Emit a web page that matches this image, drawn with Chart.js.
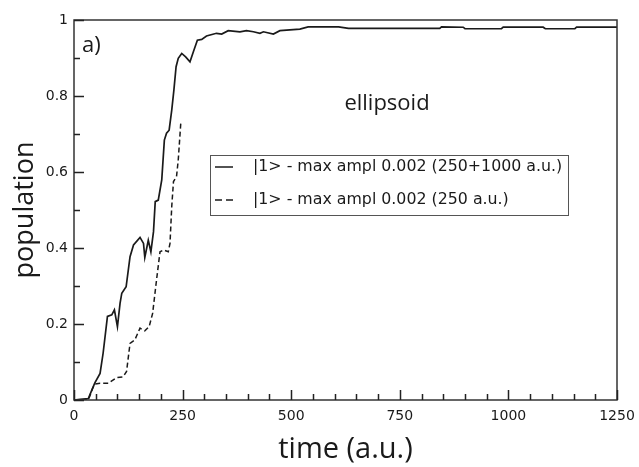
<!DOCTYPE html>
<html>
<head>
<meta charset="utf-8">
<script src="https://cdn.jsdelivr.net/npm/chart.js@4.4.1/dist/chart.umd.min.js"></script>
<style>
  html, body { margin: 0; padding: 0; background: #fff; }
  #wrap { width: 639px; height: 467px; }
</style>
</head>
<body>
<div id="wrap"><canvas id="chart" width="639" height="467"></canvas></div>
<script>
// |1> population, 250+1000 a.u. pulse (solid)
const solidTime = [0, 14, 33, 41, 48, 60, 67, 77, 87, 93, 100, 106, 110, 120, 129, 137, 152, 160, 163, 171, 177, 183, 187, 194, 202,
  208, 213, 219, 225, 230, 235, 240, 248, 257, 267, 275, 284, 294, 305, 328, 340, 355, 382, 397, 413, 428, 436, 459, 474,
  520, 539, 609, 632, 842, 846, 896, 900, 984, 988, 1080, 1085, 1153, 1157, 1250];
const solidPop = [0, 0.002, 0.004, 0.026, 0.045, 0.07, 0.123, 0.22, 0.224, 0.237, 0.193, 0.254, 0.281, 0.298, 0.377, 0.408,
  0.428, 0.412, 0.375, 0.42, 0.39, 0.443, 0.522, 0.526, 0.579,
  0.684, 0.702, 0.71, 0.763, 0.816, 0.877, 0.899, 0.912, 0.903, 0.89, 0.917, 0.947, 0.949, 0.958, 0.965, 0.963, 0.972,
  0.969, 0.972, 0.969, 0.965, 0.969, 0.963, 0.972, 0.976, 0.982, 0.982, 0.978, 0.978, 0.982, 0.981, 0.977, 0.977, 0.981,
  0.981, 0.977, 0.977, 0.981, 0.981];

// |1> population, 250 a.u. pulse (dashed)
const dashedTime = [0, 33, 43, 48, 60, 79, 98, 113, 121, 129, 140, 152, 163, 173, 181, 190, 198, 206, 217, 221, 225, 229, 236, 240, 246];
const dashedPop = [0, 0, 0.031, 0.042, 0.044, 0.044, 0.059, 0.061, 0.075, 0.149, 0.158, 0.189, 0.182, 0.193, 0.228, 0.316,
  0.39, 0.395, 0.39, 0.412, 0.509, 0.575, 0.588, 0.632, 0.732];

const seriesLabels = ['|1> - max ampl 0.002 (250+1000 a.u.)', '|1> - max ampl 0.002 (250 a.u.)'];
const xTicks = [0, 250, 500, 750, 1000, 1250];
const yTicks = [0, 0.2, 0.4, 0.6, 0.8, 1];
const yTickLabels = ['0', '0.2', '0.4', '0.6', '0.8', '1'];

const toPoints = (xs, ys) => xs.map((x, i) => ({ x: x, y: ys[i] }));

const INK = '#1a1a1a';

// frame, inward ticks, labels and the boxed legend
const decorations = {
  id: 'decorations',
  afterDatasetsDraw(chart) {
    const { ctx, chartArea: a, scales: { x, y } } = chart;
    ctx.save();
    ctx.strokeStyle = '#333';
    ctx.lineWidth = 1.5;
    ctx.strokeRect(a.left, a.top, a.right - a.left, a.bottom - a.top);

    ctx.strokeStyle = '#222';
    ctx.lineWidth = 1.5;
    ctx.beginPath();
    for (let v = 0; v <= 1250; v += 50) {
      const px = Math.round(x.getPixelForValue(v)) + 0.5;
      const len = v % 250 === 0 ? 10 : 6;
      ctx.moveTo(px, a.bottom);
      ctx.lineTo(px, a.bottom - len);
    }
    for (let i = 0; i <= 10; i++) {
      const py = Math.round(y.getPixelForValue(i / 10)) + 0.5;
      const len = i % 2 === 0 ? 10 : 6;
      ctx.moveTo(a.left, py);
      ctx.lineTo(a.left + len, py);
    }
    ctx.stroke();

    ctx.fillStyle = INK;
    ctx.font = '22px "Open Sans"';
    ctx.textBaseline = 'middle';
    ctx.textAlign = 'left';
    ctx.fillText('a)', a.left + 8, a.top + 26);
    ctx.textAlign = 'center';
    ctx.fillText('ellipsoid', 387, 104);

    // legend box
    const lx = 210, ly = 155, lw = 358, lh = 60;
    ctx.fillStyle = '#fff';
    ctx.fillRect(lx, ly, lw, lh);
    ctx.strokeStyle = '#555';
    ctx.lineWidth = 1;
    ctx.strokeRect(lx + 0.5, ly + 0.5, lw, lh);
    ctx.font = '15.8px "DejaVu Sans"';
    ctx.textAlign = 'left';
    chart.data.datasets.forEach((ds, i) => {
      const rowY = ly + 12 + i * 33;
      ctx.strokeStyle = INK;
      ctx.lineWidth = 1.5;
      ctx.setLineDash(ds.borderDash ? [7, 4] : []);
      ctx.beginPath();
      ctx.moveTo(lx + 5, rowY);
      ctx.lineTo(lx + 23, rowY);
      ctx.stroke();
      ctx.setLineDash([]);
      ctx.fillStyle = INK;
      ctx.fillText(ds.label, lx + 43, rowY);
    });
    ctx.restore();
  }
};

new Chart(document.getElementById('chart'), {
  type: 'line',
  data: {
    datasets: [
      {
        label: seriesLabels[0],
        data: toPoints(solidTime, solidPop),
        borderColor: INK,
        borderWidth: 1.7,
        pointRadius: 0,
        tension: 0,
      },
      {
        label: seriesLabels[1],
        data: toPoints(dashedTime, dashedPop),
        borderColor: INK,
        borderWidth: 1.5,
        borderDash: [5, 3],
        pointRadius: 0,
        tension: 0,
      },
    ],
  },
  options: {
    responsive: false,
    animation: false,
    events: [],
    layout: { padding: { top: 20, right: 22, left: 0, bottom: 0 } },
    plugins: { legend: { display: false }, tooltip: { enabled: false } },
    scales: {
      x: {
        type: 'linear',
        min: 0,
        max: 1250,
        afterFit: (s) => { s.height = 67; s.paddingLeft = 0; s.paddingRight = 0; },
        afterBuildTicks: (s) => { s.ticks = xTicks.map((v) => ({ value: v })); },
        grid: { display: false, drawTicks: false },
        border: { display: false },
        ticks: { padding: 8, color: INK, font: { family: 'DejaVu Sans', size: 14 }, maxRotation: 0, callback: (v) => String(v) },
        title: { display: true, text: 'time (a.u.)', color: INK, font: { family: 'Open Sans', size: 29, lineHeight: 1.2 }, padding: { top: 0, bottom: 0 } },
      },
      y: {
        min: 0,
        max: 1,
        afterFit: (s) => { s.width = 74; s.paddingTop = 0; s.paddingBottom = 0; },
        afterBuildTicks: (s) => { s.ticks = yTicks.map((v) => ({ value: v })); },
        grid: { display: false, drawTicks: false },
        border: { display: false },
        ticks: { padding: 6, color: INK, font: { family: 'DejaVu Sans', size: 14 }, callback: (v, i) => yTickLabels[i] },
        title: { display: true, text: 'population', color: INK, font: { family: 'Open Sans', size: 27, lineHeight: 1.2 }, padding: { top: 9, bottom: 0 } },
      },
    },
  },
  plugins: [decorations],
});
</script>
</body>
</html>
